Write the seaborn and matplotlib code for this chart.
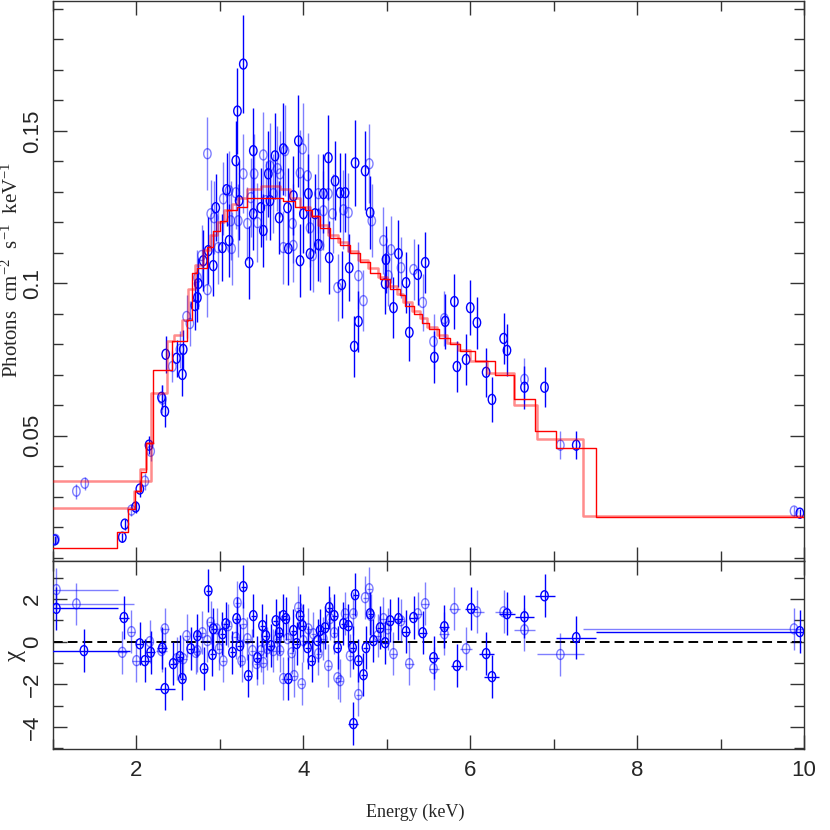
import matplotlib
matplotlib.use("Agg")
import matplotlib.pyplot as plt
import pandas as pd
import seaborn as sns
from matplotlib.path import Path
from matplotlib.transforms import Affine2D
from matplotlib.ticker import MultipleLocator, FuncFormatter

# ---- unfolded spectrum, dataset A (dark blue) ----
a_energy = [1.02, 1.83, 1.86, 1.99, 2.04, 2.15, 2.30, 2.34, 2.35, 2.48,
            2.56, 2.55, 2.70, 2.73, 2.74, 2.80, 2.86, 2.92, 2.95, 3.03,
            3.08, 3.11, 3.19, 3.21, 3.23, 3.28, 3.35, 3.40, 3.40, 3.49,
            3.52, 3.58, 3.60, 3.66, 3.71, 3.76, 3.81, 3.82, 3.88, 3.94,
            3.96, 4.00, 4.06, 4.08, 4.14, 4.18, 4.24, 4.30, 4.31, 4.38,
            4.44, 4.46, 4.50, 4.55, 4.62, 4.61, 4.66, 4.74, 4.80, 4.99,
            4.98, 5.08, 5.14, 5.23, 5.27, 5.37, 5.46, 5.57, 5.70, 5.81,
            5.84, 5.95, 6.00, 6.08, 6.19, 6.26, 6.40, 6.44, 6.65, 6.89,
            7.27, 9.95]
a_flux = [0.0158, 0.0167, 0.0210, 0.0266, 0.0325, 0.0469, 0.0626, 0.0580, 0.0767, 0.0754,
          0.0783, 0.0701, 0.0927, 0.0953, 0.0999, 0.1074, 0.1107, 0.1058, 0.1248, 0.1117,
          0.1307, 0.1140, 0.1402, 0.1565, 0.1271, 0.1719, 0.1068, 0.1435, 0.1228, 0.1248,
          0.1173, 0.1359, 0.1271, 0.1418, 0.1215, 0.1441, 0.1248, 0.1114, 0.1287, 0.1467,
          0.1074, 0.1228, 0.1294, 0.1097, 0.1228, 0.1127, 0.1294, 0.1412, 0.1084, 0.1336,
          0.1297, 0.0996, 0.1297, 0.1051, 0.1395, 0.0793, 0.0875, 0.1369, 0.1232, 0.1078,
          0.0999, 0.0920, 0.1097, 0.1002, 0.0839, 0.1029, 0.1068, 0.0757, 0.0875, 0.0940,
          0.0727, 0.0750, 0.0920, 0.0871, 0.0708, 0.0619, 0.0819, 0.0780, 0.0659, 0.0659,
          0.0469, 0.0246]
a_err = [0.0012, 0.0015, 0.0018, 0.0020, 0.0025, 0.0030, 0.0040, 0.0050, 0.0060, 0.0060,
         0.0065, 0.0070, 0.0080, 0.0080, 0.0085, 0.0100, 0.0110, 0.0100, 0.0110, 0.0110,
         0.0120, 0.0120, 0.0130, 0.0140, 0.0130, 0.0160, 0.0120, 0.0140, 0.0120, 0.0130,
         0.0120, 0.0140, 0.0130, 0.0140, 0.0120, 0.0150, 0.0130, 0.0120, 0.0130, 0.0150,
         0.0120, 0.0130, 0.0130, 0.0120, 0.0130, 0.0120, 0.0130, 0.0140, 0.0120, 0.0130,
         0.0130, 0.0110, 0.0130, 0.0110, 0.0140, 0.0100, 0.0100, 0.0130, 0.0120, 0.0110,
         0.0100, 0.0100, 0.0110, 0.0100, 0.0095, 0.0100, 0.0100, 0.0085, 0.0090, 0.0090,
         0.0085, 0.0085, 0.0090, 0.0085, 0.0080, 0.0075, 0.0085, 0.0085, 0.0070, 0.0065,
         0.0045, 0.0015]

# ---- unfolded spectrum, dataset B (light blue) ----
b_energy = [1.03, 1.28, 1.38, 1.94, 2.10, 2.17, 2.31, 2.43, 2.52, 2.60,
            2.64, 2.73, 2.85, 2.78, 2.85, 2.89, 2.93, 2.98, 3.04, 3.11,
            3.13, 3.14, 3.19, 3.22, 3.28, 3.33, 3.37, 3.41, 3.45, 3.52,
            3.55, 3.60, 3.64, 3.69, 3.72, 3.78, 3.76, 3.87, 3.88, 3.96,
            3.99, 4.05, 4.08, 4.11, 4.18, 4.20, 4.24, 4.30, 4.35, 4.41,
            4.48, 4.54, 4.66, 4.72, 4.79, 4.82, 4.96, 5.02, 5.05, 5.17,
            5.32, 5.43, 5.56, 5.69, 6.65, 7.08, 9.88]
b_flux = [0.0160, 0.0318, 0.0344, 0.0256, 0.0351, 0.0449, 0.0620, 0.0727, 0.0783, 0.0891,
          0.0868, 0.1019, 0.0979, 0.1091, 0.1425, 0.1228, 0.1215, 0.1117, 0.1277, 0.1304,
          0.1205, 0.1114, 0.1297, 0.1205, 0.1359, 0.1196, 0.1281, 0.1359, 0.1199, 0.1421,
          0.1271, 0.1385, 0.1294, 0.1376, 0.1359, 0.1435, 0.1117, 0.1196, 0.1124, 0.1362,
          0.1441, 0.1353, 0.1182, 0.1091, 0.1294, 0.1124, 0.1238, 0.1294, 0.1228, 0.0986,
          0.1241, 0.1232, 0.1025, 0.0943, 0.1392, 0.1205, 0.1140, 0.1025, 0.1110, 0.1051,
          0.1045, 0.0937, 0.0809, 0.0884, 0.0685, 0.0469, 0.0253]
b_err = [0.0012, 0.0024, 0.0022, 0.0020, 0.0028, 0.0032, 0.0045, 0.0050, 0.0060, 0.0070,
         0.0075, 0.0090, 0.0090, 0.0100, 0.0120, 0.0110, 0.0120, 0.0120, 0.0120, 0.0130,
         0.0130, 0.0120, 0.0120, 0.0120, 0.0130, 0.0120, 0.0130, 0.0130, 0.0130, 0.0140,
         0.0130, 0.0140, 0.0130, 0.0140, 0.0140, 0.0150, 0.0120, 0.0130, 0.0120, 0.0140,
         0.0150, 0.0140, 0.0130, 0.0120, 0.0130, 0.0120, 0.0130, 0.0130, 0.0130, 0.0110,
         0.0130, 0.0130, 0.0110, 0.0100, 0.0130, 0.0120, 0.0110, 0.0100, 0.0110, 0.0100,
         0.0100, 0.0095, 0.0090, 0.0090, 0.0070, 0.0045, 0.0015]

# ---- folded models (bin edges + value per bin) ----
model_a_edges = [0.3, 1.77, 1.90, 1.98, 2.05, 2.12, 2.20, 2.43, 2.60, 2.66,
                 2.73, 2.85, 2.92, 3.00, 3.08, 3.20, 3.33, 3.76, 3.90, 4.02,
                 4.10, 4.20, 4.32, 4.44, 4.56, 4.68, 4.80, 4.92, 5.04, 5.16,
                 5.22, 5.32, 5.42, 5.50, 5.63, 5.76, 5.88, 6.06, 6.30, 6.52,
                 6.78, 7.03, 7.51, 10.5]
model_a_flux = [0.0132, 0.0184, 0.026, 0.032, 0.038, 0.0475, 0.0714, 0.081, 0.088, 0.1035,
                0.105, 0.112, 0.117, 0.1205, 0.124, 0.125, 0.128, 0.127, 0.125, 0.124,
                0.122, 0.118, 0.115, 0.1127, 0.110, 0.107, 0.1035, 0.1015, 0.098, 0.096,
                0.0927, 0.090, 0.087, 0.085, 0.082, 0.080, 0.0777, 0.0744, 0.070, 0.062,
                0.0514, 0.046, 0.0233]
model_b_edges = [0.3, 2.17, 2.37, 2.45, 2.55, 2.62, 2.70, 2.80, 2.88, 2.96,
                 3.05, 3.14, 3.22, 3.33, 3.49, 3.72, 3.84, 3.96, 4.08, 4.18,
                 4.29, 4.41, 4.53, 4.65, 4.77, 4.89, 5.00, 5.12, 5.20, 5.30,
                 5.40, 5.48, 5.60, 5.72, 5.85, 6.00, 6.20, 6.53, 6.80, 7.35,
                 10.5]
model_b_flux = [0.0351, 0.064, 0.081, 0.083, 0.088, 0.098, 0.106, 0.111, 0.116, 0.120,
                0.124, 0.126, 0.128, 0.131, 0.132, 0.131, 0.128, 0.125, 0.122, 0.119,
                0.116, 0.1135, 0.1105, 0.1075, 0.105, 0.102, 0.099, 0.0965, 0.094, 0.091,
                0.0885, 0.0855, 0.083, 0.0805, 0.078, 0.0745, 0.0705, 0.060, 0.049, 0.0238]
model_c_edges = [0.3, 1.97, 2.04, 2.12, 2.20]
model_c_flux = [0.0264, 0.032, 0.039, 0.0475]

# ---- residuals (chi) ----
ra_energy = [1.04, 1.37, 1.85, 2.04, 2.10, 2.17, 2.31, 2.34, 2.44, 2.52,
             2.55, 2.65, 2.73, 2.81, 2.86, 2.92, 2.91, 3.03, 3.07, 3.15,
             3.20, 3.24, 3.28, 3.34, 3.40, 3.45, 3.51, 3.55, 3.61, 3.67,
             3.71, 3.76, 3.79, 3.82, 3.88, 3.92, 3.96, 3.99, 4.05, 4.10,
             4.17, 4.20, 4.26, 4.31, 4.37, 4.41, 4.48, 4.54, 4.59, 4.60,
             4.62, 4.66, 4.72, 4.75, 4.80, 4.84, 4.92, 4.98, 5.04, 5.14,
             5.23, 5.32, 5.43, 5.56, 5.69, 5.84, 6.01, 6.19, 6.26, 6.44,
             6.65, 6.89, 7.27, 9.95]
ra_chi = [1.56, -0.42, 1.13, -0.10, -0.89, -0.50, -0.30, -2.20, -1.03, -0.70,
          -1.73, -0.33, 0.28, -1.26, 2.39, 0.60, -0.60, 0.37, 0.84, -0.50,
          1.08, -0.19, 2.58, -1.59, 1.22, -0.75, 0.75, 0.28, -0.19, 0.98,
          0.42, 1.22, 1.08, -1.73, 0.52, -0.09, 1.22, 0.75, -0.28, -0.89,
          0.05, 0.52, 0.65, 1.60, 1.22, -0.28, 0.84, 0.75, -0.28, -3.84,
          2.20, -0.89, -1.55, -0.28, 1.31, 0.05, 0.65, -0.05, 0.98, 1.08,
          0.47, 1.13, 0.42, -0.75, 0.70, -1.12, 1.55, -0.56, -1.64, 1.31,
          1.17, 2.15, 0.19, 0.47]
ra_halfwidth = [0.74, 0.55, 0.06, 0.04, 0.06, 0.05, 0.06, 0.12, 0.04, 0.04,
                0.03, 0.03, 0.03, 0.03, 0.03, 0.03, 0.03, 0.03, 0.03, 0.03,
                0.03, 0.03, 0.03, 0.03, 0.03, 0.03, 0.03, 0.03, 0.03, 0.03,
                0.03, 0.03, 0.03, 0.03, 0.03, 0.03, 0.03, 0.03, 0.03, 0.03,
                0.03, 0.03, 0.03, 0.03, 0.03, 0.03, 0.03, 0.03, 0.03, 0.06,
                0.03, 0.03, 0.03, 0.03, 0.03, 0.04, 0.04, 0.04, 0.04, 0.05,
                0.05, 0.05, 0.05, 0.06, 0.06, 0.07, 0.07, 0.09, 0.09, 0.10,
                0.11, 0.12, 0.24, 2.44]
rb_energy = [1.04, 1.28, 1.83, 1.94, 2.00, 2.16, 2.30, 2.34, 2.48, 2.56,
             2.60, 2.71, 2.73, 2.79, 2.85, 2.89, 2.96, 2.99, 3.04, 3.10,
             3.19, 3.21, 3.26, 3.28, 3.33, 3.39, 3.44, 3.49, 3.52, 3.57,
             3.64, 3.69, 3.72, 3.76, 3.81, 3.86, 3.89, 3.94, 3.98, 4.00,
             4.06, 4.12, 4.18, 4.24, 4.30, 4.32, 4.37, 4.41, 4.44, 4.50,
             4.56, 4.60, 4.66, 4.74, 4.79, 4.81, 4.89, 4.96, 5.01, 5.08,
             5.17, 5.27, 5.37, 5.46, 5.56, 5.69, 5.81, 5.95, 6.08, 6.40,
             6.65, 7.08, 9.88]
rb_chi = [2.44, 1.77, -0.50, 0.47, -0.89, 0.00, -0.42, 0.60, -0.80, -0.80,
          0.28, -0.50, -0.42, 0.42, 0.05, 0.90, 0.60, -0.33, -0.90, 0.75,
          0.20, 1.83, -0.89, 0.84, 0.14, -0.42, -1.03, -0.42, -0.98, -0.33,
          -0.42, 0.14, -0.42, -1.73, 0.14, -0.52, -1.59, 1.60, -1.97, 0.05,
          0.60, 0.37, -0.56, 0.14, -1.12, 1.08, 0.42, -1.69, -1.83, 1.31,
          -0.66, 1.31, -2.48, 2.06, 2.48, 1.22, 0.28, 1.08, 0.60, -0.56,
          0.98, -1.03, 1.31, 1.78, -1.26, 0.37, 1.55, -0.33, 1.40, 1.40,
          0.56, -0.60, 0.60]
rb_halfwidth = [0.74, 0.69, 0.06, 0.04, 0.05, 0.04, 0.07, 0.05, 0.04, 0.04,
                0.03, 0.03, 0.03, 0.03, 0.03, 0.03, 0.03, 0.03, 0.03, 0.03,
                0.03, 0.03, 0.03, 0.03, 0.03, 0.03, 0.03, 0.03, 0.03, 0.03,
                0.03, 0.03, 0.03, 0.03, 0.03, 0.03, 0.03, 0.03, 0.03, 0.03,
                0.03, 0.03, 0.03, 0.03, 0.03, 0.03, 0.03, 0.03, 0.03, 0.03,
                0.03, 0.03, 0.03, 0.03, 0.03, 0.03, 0.04, 0.04, 0.04, 0.04,
                0.05, 0.05, 0.05, 0.05, 0.06, 0.06, 0.07, 0.07, 0.08, 0.10,
                0.13, 0.28, 2.53]

sns.set_theme(style="ticks")
plt.rcParams["font.family"] = ["Liberation Sans", "DejaVu Sans"]
plt.rcParams["mathtext.fontset"] = "custom"
plt.rcParams["mathtext.rm"] = "Liberation Serif"
plt.rcParams["mathtext.it"] = "Liberation Serif:italic"

DARK = (0.0, 0.0, 1.0, 1.0)
LIGHT = (0.0, 0.0, 1.0, 0.5)
RED = (1.0, 0.0, 0.0, 1.0)
LIGHT_RED = (1.0, 0.0, 0.0, 0.45)
SERIF = ["Liberation Serif", "DejaVu Serif"]

ellipse = Affine2D().scale(0.74, 1.0).transform_path(Path.unit_circle())


def draw_model(ax, edges, values, color, lw):
    df = pd.DataFrame({"energy": edges, "flux": list(values) + [values[-1]]})
    sns.lineplot(data=df, x="energy", y="flux", drawstyle="steps-post",
                 estimator=None, sort=False, color=color, lw=lw,
                 ax=ax, zorder=4, legend=False)


def draw_points(ax, x, y, yerr, color, xerr=None):
    ax.errorbar(x, y, yerr=yerr, xerr=xerr, fmt="none", ecolor=color,
                elinewidth=1.0, capsize=0, zorder=3)
    sns.scatterplot(x=x, y=y, marker=ellipse, s=52, color=color,
                    facecolor="none", edgecolor=color, linewidth=1.0,
                    ax=ax, zorder=3, legend=False)


fig = plt.figure(figsize=(8.3, 8.3), dpi=100)
ax = fig.add_axes([0.0639, 0.3241, 0.9048, 0.6747])
axr = fig.add_axes([0.0639, 0.0976, 0.9048, 0.2265])

# top panel: data + models
draw_points(ax, b_energy, b_flux, b_err, LIGHT)
draw_points(ax, a_energy, a_flux, a_err, DARK)
draw_model(ax, model_c_edges, model_c_flux, LIGHT_RED, 1.8)
draw_model(ax, model_b_edges, model_b_flux, LIGHT_RED, 1.8)
draw_model(ax, model_a_edges, model_a_flux, RED, 1.0)

# bottom panel: residuals
axr.axhline(0, color="black", lw=1.4, ls=(0, (5, 2.6)), zorder=2)
draw_points(axr, rb_energy, rb_chi, 1.0, LIGHT, xerr=rb_halfwidth)
draw_points(axr, ra_energy, ra_chi, 1.0, DARK, xerr=ra_halfwidth)

ax.set_ylim(0.0089, 0.1926)
ax.yaxis.set_major_locator(MultipleLocator(0.05))
ax.yaxis.set_minor_locator(MultipleLocator(0.01))
ax.yaxis.set_major_formatter(FuncFormatter(lambda v, p: f"{v:g}"))
axr.set_ylim(-5.03, 3.78)
axr.yaxis.set_major_locator(MultipleLocator(2))
axr.yaxis.set_minor_locator(MultipleLocator(1))

for a in (ax, axr):
    a.set_xlim(1, 10)
    a.xaxis.set_major_locator(MultipleLocator(2))
    a.xaxis.set_minor_locator(MultipleLocator(1))
    a.tick_params(which="both", direction="in", top=True, right=True,
                  color="#333333", width=1.0)
    a.tick_params(which="major", length=10)
    a.tick_params(which="minor", length=7)
    a.tick_params(axis="y", labelrotation=90, labelsize=16, pad=7)
    for lab in a.get_yticklabels():
        lab.set_verticalalignment("center")
    for s in a.spines.values():
        s.set_color("#333333")
        s.set_linewidth(1.0)
    a.set_xlabel("")
    a.set_ylabel("")

ax.tick_params(labelbottom=False)
axr.tick_params(axis="x", labelsize=16, pad=8)

ax.set_ylabel(r"Photons  cm$^{-2}$  s$^{-1}$  keV$^{-1}$", fontsize=15, family=SERIF)
ax.yaxis.set_label_coords(-0.040, 0.52)
axr.set_ylabel("\u03c7", fontsize=18, family=SERIF)
axr.yaxis.set_label_coords(-0.036, 0.5)
axr.set_xlabel("Energy (keV)", fontsize=13, family=SERIF)
axr.xaxis.set_label_coords(0.482, -0.29)
axr.xaxis.label.set_verticalalignment("top")

fig.savefig("out.png", dpi=100, facecolor="white")
